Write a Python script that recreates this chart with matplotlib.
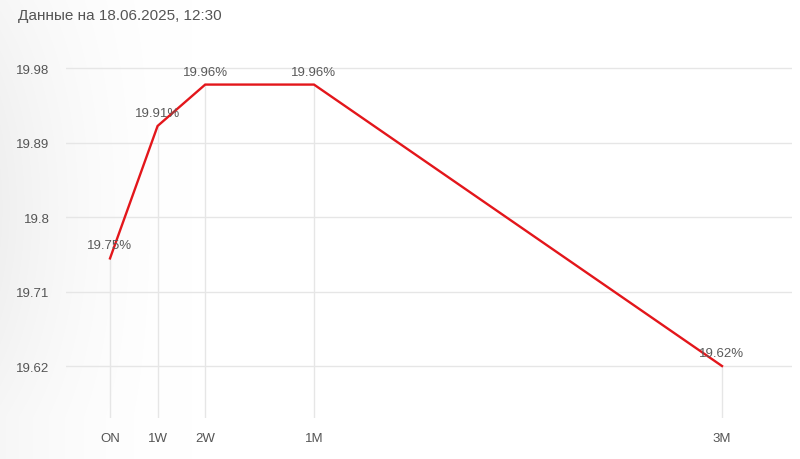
import numpy as np
import matplotlib
matplotlib.use("Agg")
import matplotlib.pyplot as plt

plt.rcParams['font.family'] = ['Liberation Sans', 'DejaVu Sans']

title = "Данные на 18.06.2025, 12:30"
tenors = ["ON", "1W", "2W", "1M", "3M"]
days = [0, 7, 14, 30, 90]
rates = [19.75, 19.91, 19.96, 19.96, 19.62]
yticks = [19.62, 19.71, 19.8, 19.89, 19.98]
ytick_labels = ["19.62", "19.71", "19.8", "19.89", "19.98"]

fig = plt.figure(figsize=(8, 4.6), dpi=100)
fig.patch.set_facecolor("white")

# subtle left-side background shading
bg = fig.add_axes([0, 0, 1, 1], zorder=-10)
W, H = 800, 460
xx = np.linspace(0, 1, W)
yy = np.linspace(0, 1, H)
X, Y = np.meshgrid(xx, yy)
shade = np.clip(1 - X / 0.24, 0, 1) ** 1.8 * (0.55 + 0.45 * np.sin(np.pi * np.clip(Y * 1.1, 0, 1)))
val = 1 - 0.06 * shade
img = np.dstack([val, val, val])
bg.imshow(img, aspect='auto', extent=[0, 1, 0, 1])
bg.axis('off')

ax = fig.add_axes([66 / 800, (460 - 419) / 460, (792 - 66) / 800, (419 - 60) / 460])
ax.set_facecolor("none")
ax.set_xlim(-44 / 6.8, 90 + 70 / 6.8)
ax.set_ylim(19.5572, 19.9909)

grid_c = "#e6e6e6"
for yv in yticks:
    ax.axhline(yv, color=grid_c, lw=1, zorder=1)
for d, r in zip(days, rates):
    ax.plot([d, d], [19.5572, r], color=grid_c, lw=1, zorder=1)

ax.plot(days, rates, color="#e3161b", lw=1.7, zorder=3, solid_joinstyle='miter')

for d, r in zip(days, rates):
    ax.annotate(f"{r:.2f}%", (d, r), xytext=(0, 5), textcoords="offset points",
                ha="center", va="bottom", fontsize=9.5, color="#5a5a5a", zorder=4)

ax.set_yticks(yticks)
ax.set_yticklabels(ytick_labels)
ax.set_xticks(days)
ax.set_xticklabels(tenors)
ax.tick_params(axis='both', length=0, labelsize=9.5, labelcolor="#555555")
ax.tick_params(axis='y', pad=12)
ax.tick_params(axis='x', pad=10)
for s in ax.spines.values():
    s.set_visible(False)

fig.text(18 / 800, 1 - 16 / 460, title, ha="left", va="center", fontsize=11, color="#555555")

fig.savefig("out.png", dpi=100)
